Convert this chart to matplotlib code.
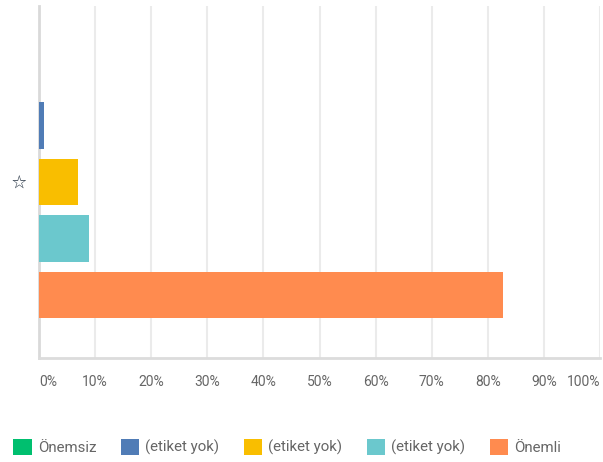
import matplotlib
matplotlib.use("Agg")
import matplotlib.pyplot as plt
from matplotlib.patches import Patch
import numpy as np

plt.rcParams['font.family'] = ['Roboto', 'DejaVu Sans']

# Response shares (percent) for the single rated item
series_names = ["Önemsiz", "(etiket yok)", "(etiket yok)", "(etiket yok)", "Önemli"]
series_values = [0.0, 0.9, 6.95, 8.86, 82.65]
series_colors = ["#00bf6f", "#507cb6", "#f9be00", "#6bc8cd", "#ff8b4f"]
category_labels = ["☆"]
x_ticks = [0, 10, 20, 30, 40, 50, 60, 70, 80, 90, 100]
x_tick_labels = ["0%", "10%", "20%", "30%", "40%", "50%", "60%", "70%", "80%", "90%", "100%"]

W, H = 603, 462
fig = plt.figure(figsize=(W / 100, H / 100), dpi=100)
ax = fig.add_axes([39 / W, (H - 358) / H, (600 - 39) / W, (358 - 6) / H])

n = len(series_values)
offsets = np.arange(n) - (n - 1) / 2
for off, val, col in zip(offsets, series_values, series_colors):
    ax.barh(0 + off, val, height=0.83, color=col, edgecolor="none", zorder=3)

ax.set_xlim(0, 100)
ax.set_ylim(3.115, -3.115)

ax.set_xticks(x_ticks)
ax.set_xticklabels(x_tick_labels, fontsize=10, color="#666666")
labels = ax.get_xticklabels()
labels[0].set_ha("left")
labels[-1].set_ha("right")
ax.tick_params(axis="x", length=0, pad=12)

ax.set_yticks([0])
ax.set_yticklabels(category_labels, fontsize=10.5, color="#2e3b4a",
                   family=["Noto Sans CJK SC", "DejaVu Sans"])
ax.tick_params(axis="y", length=0, pad=9)

ax.grid(axis="x", color="#ebebeb", linewidth=1.5, zorder=0)
ax.set_axisbelow(True)
for side in ["top", "right"]:
    ax.spines[side].set_visible(False)
ax.spines["left"].set_color("#d9d9d9")
ax.spines["left"].set_linewidth(2)
ax.spines["bottom"].set_color("#dcdcdc")
ax.spines["bottom"].set_linewidth(2)

handles = [Patch(facecolor=c, edgecolor="none") for c in series_colors]
fig.legend(handles, series_names, loc="center left",
           bbox_to_anchor=(13 / W, (H - 447) / H), ncol=n, frameon=False,
           fontsize=10.8, labelcolor="#666666", handlelength=1.25, handleheight=1.25,
           handletextpad=0.4, columnspacing=1.62, borderpad=0, borderaxespad=0)

fig.savefig("out.png", dpi=100)
